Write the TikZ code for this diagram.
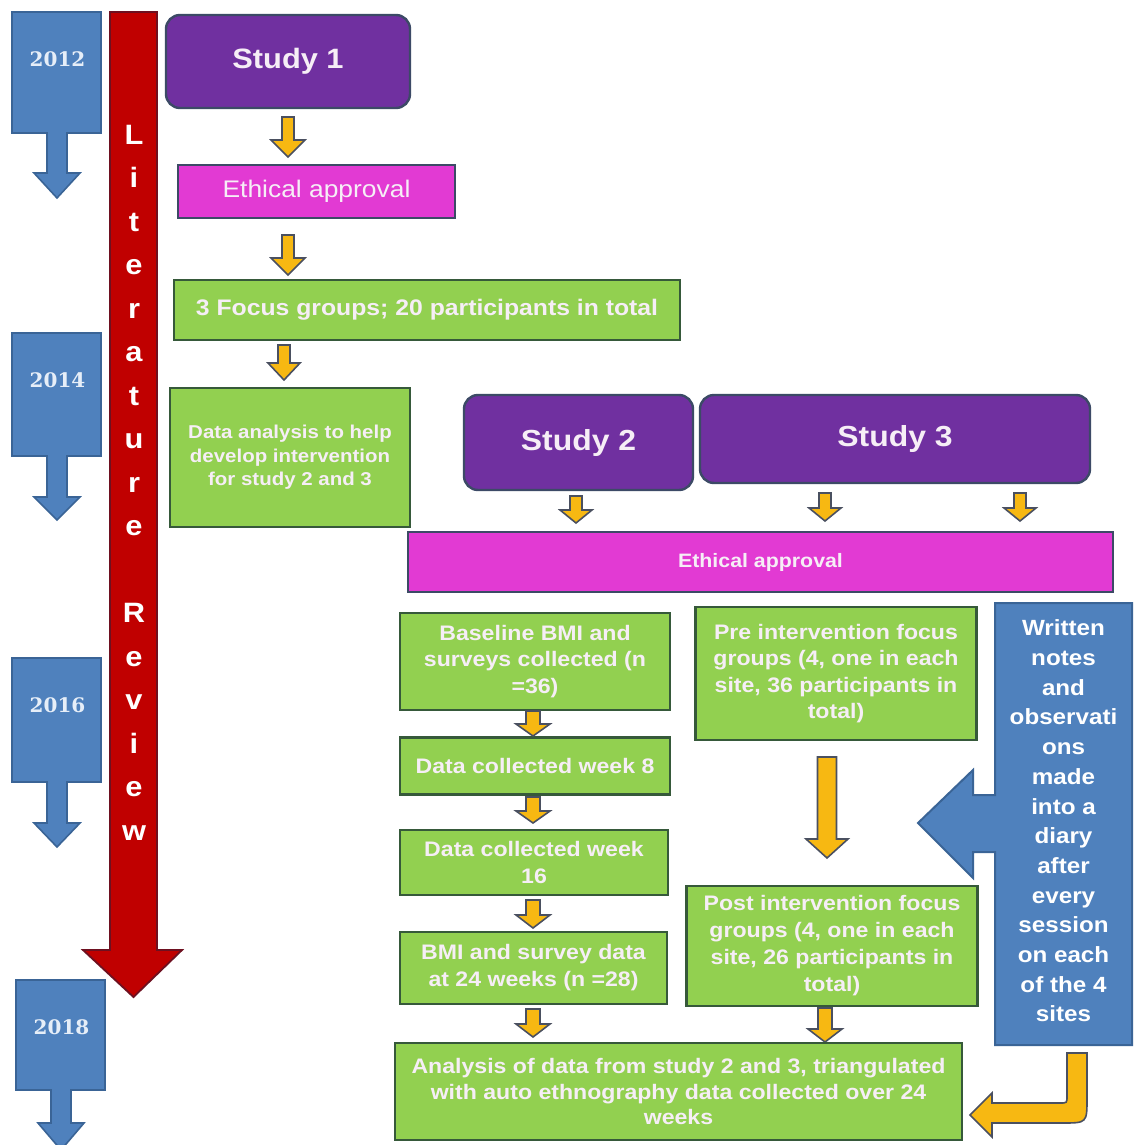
\documentclass[tikz,border=0pt]{standalone}
\usepackage{fontspec}
\setmainfont{Liberation Sans}[FakeStretch=1.1]
\newfontfamily\yearfont{DejaVu Serif}
\usetikzlibrary{calc}

\definecolor{yearblue}{HTML}{4F81BD}
\definecolor{yearedge}{HTML}{3A6496}
\definecolor{yeardigits}{HTML}{E6EEF8}
\definecolor{litred}{HTML}{C00000}
\definecolor{litedge}{HTML}{6E1020}
\definecolor{studypurple}{HTML}{7030A0}
\definecolor{boxedge}{HTML}{3C4A66}
\definecolor{ethicmag}{HTML}{E23AD3}
\definecolor{stepgreen}{HTML}{92D050}
\definecolor{greenedge}{HTML}{36593A}
\definecolor{flowyellow}{HTML}{F7B812}
\definecolor{arrowedge}{HTML}{4A5060}
\definecolor{paletext}{HTML}{F6EEF6}

% year marker: box with a downward arrow below it
% #1 name, #2 left, #3 top, #4 bottom, #5 head base, #6 tip, #7 year
\newcommand\yearmarker[7]{%
  \draw[yearshape] (#2,#3) -- ({#2+89},#3) -- ({#2+89},#4) -- ({#2+55},#4)
    -- ({#2+55},#5) -- ({#2+68},#5) -- ({#2+45},#6) -- ({#2+22},#5)
    -- ({#2+35},#5) -- ({#2+35},#4) -- (#2,#4) -- cycle;
  \node[yeartext] (#1) at ({#2+45.5},{#3+47.5}) {#7};}

% small block arrow pointing down
% #1 x, #2 top, #3 tip, #4 shaft half width, #5 head half width, #6 head length
\newcommand\flowdown[6]{%
  \draw[yarrow] ({#1-#4},#2) -- ({#1+#4},#2) -- ({#1+#4},{#3-#6}) -- ({#1+#5},{#3-#6})
    -- (#1,#3) -- ({#1-#5},{#3-#6}) -- ({#1-#4},{#3-#6}) -- cycle;}

\begin{document}
\begin{tikzpicture}[x=1pt,y=-1pt,
  yearshape/.style={fill=yearblue,draw=yearedge,line width=1.6pt},
  yeartext/.style={text=yeardigits,font=\yearfont\bfseries\fontsize{20}{24}\selectfont,inner sep=0pt},
  litletter/.style={text=white,font=\bfseries\fontsize{28}{30}\selectfont,inner sep=0pt,anchor=base},
  yarrow/.style={fill=flowyellow,draw=arrowedge,line width=1.6pt,line join=miter},
  stepbox/.style={draw=greenedge,fill=stepgreen,line width=2.4pt,align=center,inner sep=0pt,
    text=paletext,font=\bfseries\fontsize{21}{26.5}\selectfont},
  studybox/.style={draw=boxedge,fill=studypurple,line width=2.4pt,rounded corners=14pt,
    align=center,inner sep=0pt,text=paletext,font=\bfseries\fontsize{29}{32}\selectfont},
  ethicbox/.style={draw=boxedge,fill=ethicmag,line width=2.4pt,align=center,inner sep=0pt,
    text=paletext}
]
\useasboundingbox[fill=white] (0,0) rectangle (1135,1145);

% timeline of years
\yearmarker{y12}{12}{12}{133}{173}{198}{2012}
\yearmarker{y14}{12}{333}{456}{497}{520}{2014}
\yearmarker{y16}{12}{658}{782}{823}{847}{2016}
\yearmarker{y18}{16}{980}{1090}{1123}{1150}{2018}

% literature review running through the whole period
\draw[fill=litred,draw=litedge,line width=1.8pt,line join=miter]
  (110,12) -- (157,12) -- (157,950) -- (182,950) -- (133.5,997) -- (83,950) -- (110,950) -- cycle;
\foreach \ch [count=\i] in {L,i,t,e,r,a,t,u,r,e}
  \node[litletter] (lit\i) at (134,{144+(\i-1)*43.5}) {\ch};
\foreach \ch [count=\i from 12] in {R,e,v,i,e,w}
  \node[litletter] (rev\i) at (134,{144+(\i-1)*43.5}) {\ch};

% study 1
\node[studybox,minimum width=244,minimum height=93,font=\bfseries\fontsize{28}{32}\selectfont]
  (s1) at (288,61.5) {Study 1};
\node[ethicbox,minimum width=277,minimum height=53,font=\fontsize{24}{28}\selectfont]
  (ea1) at (316.5,191.5) {Ethical approval};
\node[stepbox,minimum width=506,minimum height=60,font=\bfseries\fontsize{22.5}{26}\selectfont]
  (fg) at (427,310) {\raisebox{5pt}{3 Focus groups; 20 participants in total}};
\node[stepbox,minimum width=240,minimum height=139,font=\bfseries\fontsize{18.6}{23.5}\selectfont]
  (da) at (290,457.5) {Data analysis to help\\develop intervention\\for study 2 and 3};

\flowdown{288}{117}{157}{6}{17}{17}
\flowdown{288}{235}{275}{6}{17}{17}
\flowdown{284}{345}{380}{6}{16}{17}

% studies 2 and 3
\node[studybox,minimum width=229,minimum height=95] (s2) at (578.5,442.5) {Study 2};
\node[studybox,minimum width=390,minimum height=88] (s3) at (895,439) {\raisebox{2pt}{Study 3}};
\node[ethicbox,minimum width=705,minimum height=60,font=\bfseries\fontsize{19.4}{24}\selectfont]
  (ea2) at (760.5,562) {\raisebox{3pt}{Ethical approval}};

\flowdown{576}{496}{523}{6}{16}{13}
\flowdown{825}{493}{521}{6}{16}{13}
\flowdown{1020}{493}{521}{6}{16}{13}

% study 2 measurements
\node[stepbox,minimum width=270,minimum height=97] (base) at (535,661.5)
  {Baseline BMI and\\surveys collected (n\\=36)};
\node[stepbox,minimum width=270,minimum height=57] (w8) at (535,766) {Data collected week 8};
\node[stepbox,minimum width=268,minimum height=65] (w16) at (534,862.5) {Data collected week\\16};
\node[stepbox,minimum width=267,minimum height=72,font=\bfseries\fontsize{21}{27}\selectfont]
  (bmi) at (533.5,968) {BMI and survey data\\at 24 weeks (n =28)};

\flowdown{533}{711}{736}{7}{17}{12}
\flowdown{533}{797}{823}{7}{17}{12}
\flowdown{533}{900}{928}{7}{17}{13}
\flowdown{533}{1009}{1037}{7}{17}{13}

% study 3 focus groups
\node[stepbox,minimum width=281,minimum height=133] (pre) at (836,673.5)
  {Pre intervention focus\\groups (4, one in each\\site, 36 participants in\\total)};
\node[stepbox,minimum width=291,minimum height=120,font=\bfseries\fontsize{21}{27}\selectfont]
  (post) at (832,946) {Post intervention focus\\groups (4, one in each\\site, 26 participants in\\total)};

\flowdown{827}{757}{858}{9.5}{21}{19}
\flowdown{825}{1008}{1042}{7}{17}{13}

% final analysis
\node[stepbox,minimum width=567,minimum height=97,font=\bfseries\fontsize{21}{25.5}\selectfont]
  (ana) at (678.5,1091.5)
  {Analysis of data from study 2 and 3, triangulated\\with auto ethnography data collected over 24\\weeks};

% auto ethnography diary, pointing into the study 3 column
\draw[fill=yearblue,draw=yearedge,line width=2pt,line join=miter]
  (995,603) -- (1132,603) -- (1132,1045) -- (995,1045) -- (995,852) -- (973,852)
  -- (973,878) -- (918,823) -- (973,770) -- (973,795) -- (995,795) -- cycle;
\node[align=center,inner sep=0pt,text=white,font=\bfseries\fontsize{22}{29.7}\selectfont]
  (notes) at (1063.5,821)
  {Written\\notes\\and\\observati\\ons\\made\\into a\\diary\\after\\every\\session\\on each\\of the 4\\sites};

% diary feeds into the final analysis
\draw[yarrow]
  (1067,1053) -- (1087,1053) -- (1087,1098) .. controls (1087,1123) and (1087,1123) .. (1062,1123)
  -- (992,1123) -- (992,1137) -- (970,1115) -- (992,1093) -- (992,1103)
  -- (1060,1103) .. controls (1067,1103) and (1067,1103) .. (1067,1096) -- cycle;
\end{tikzpicture}
\end{document}
